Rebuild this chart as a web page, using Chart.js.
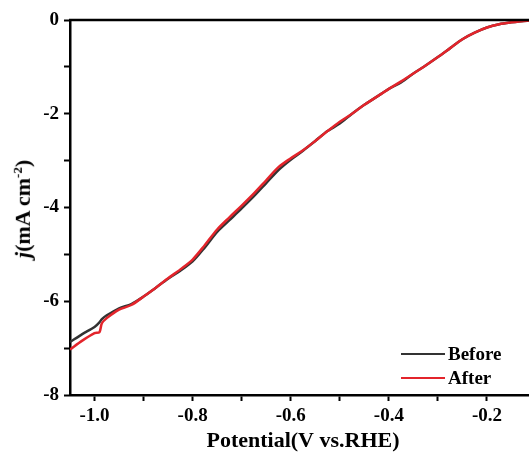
<!DOCTYPE html>
<html>
<head>
<meta charset="utf-8">
<script src="https://cdn.jsdelivr.net/npm/chart.js@4"></script>
<style>
  html, body { margin: 0; padding: 0; background: #fff; overflow: hidden; }
  #wrap { position: relative; width: 545px; height: 459px; }
  .serif { font-family: "Liberation Serif", "Times New Roman", serif; font-weight: bold; color: #000; }
  #ylab {
    position: absolute; left: 23px; top: 209px;
    transform: translate(-50%, -50%) rotate(-90deg);
    white-space: nowrap; font-size: 22px;
  }
  #ylab sup { font-size: 13px; }
  #legend { position: absolute; left: 401px; top: 342px; font-size: 19px; line-height: 24px; }
  #legend .row { display: flex; align-items: center; }
  #legend .swatch { width: 44px; height: 2.5px; margin-right: 3px; }
</style>
</head>
<body>
<div id="wrap">
  <canvas id="lsvChart"></canvas>
  <div id="ylab" class="serif"><i>j</i>(mA cm<sup>-2</sup>)</div>
  <div id="legend" class="serif">
    <div class="row"><span class="swatch" style="background:#333333"></span>Before</div>
    <div class="row"><span class="swatch" style="background:#e3242b"></span>After</div>
  </div>
</div>
<script>
// potential (V vs. RHE) and current density (mA cm-2)
const potential = [-1.05, -1.025, -1.0, -0.99, -0.985, -0.975, -0.95, -0.925, -0.9, -0.875,
  -0.85, -0.825, -0.8, -0.775, -0.75, -0.725, -0.7, -0.675, -0.65, -0.625,
  -0.6, -0.575, -0.55, -0.525, -0.5, -0.475, -0.45, -0.425, -0.4, -0.375,
  -0.35, -0.325, -0.3, -0.275, -0.25, -0.225, -0.2, -0.175, -0.15, -0.125, -0.1];

const before = [-6.87, -6.70, -6.55, -6.45, -6.38, -6.30, -6.15, -6.06, -5.90, -5.71,
  -5.52, -5.35, -5.15, -4.85, -4.52, -4.27, -4.02, -3.76, -3.48, -3.20,
  -2.98, -2.79, -2.58, -2.37, -2.21, -2.00, -1.81, -1.64, -1.47, -1.33,
  -1.14, -0.97, -0.79, -0.60, -0.41, -0.27, -0.16, -0.09, -0.05, -0.02, -0.01];

const after = [-7.03, -6.84, -6.68, -6.66, -6.47, -6.36, -6.18, -6.08, -5.90, -5.71,
  -5.51, -5.32, -5.11, -4.80, -4.47, -4.21, -3.96, -3.70, -3.42, -3.14,
  -2.95, -2.78, -2.58, -2.37, -2.17, -2.00, -1.81, -1.64, -1.47, -1.31,
  -1.14, -0.97, -0.79, -0.60, -0.41, -0.27, -0.16, -0.09, -0.05, -0.02, -0.01];

const xTicks = [-1.0, -0.9, -0.8, -0.7, -0.6, -0.5, -0.4, -0.3, -0.2];
const yTicks = [0, -1, -2, -3, -4, -5, -6, -7, -8];

const tickFont = { family: '"Liberation Serif", "Times New Roman", serif', weight: 'bold', size: 19 };

// top edge of the frame
const topFrame = {
  id: 'topFrame',
  afterDraw(chart) {
    const { ctx, chartArea } = chart;
    ctx.save();
    ctx.strokeStyle = '#000';
    ctx.lineWidth = 2.5;
    ctx.beginPath();
    ctx.moveTo(chartArea.left - 1, chartArea.top);
    ctx.lineTo(chartArea.right, chartArea.top);
    ctx.stroke();
    ctx.restore();
  }
};

const ctx = document.getElementById('lsvChart').getContext('2d');
new Chart(ctx, {
  type: 'line',
  data: {
    datasets: [
      {
        label: 'Before',
        data: potential.map((x, i) => ({ x: x, y: before[i] })),
        borderColor: '#333333',
        borderWidth: 2.5,
        pointRadius: 0,
        tension: 0.3,
        order: 2
      },
      {
        label: 'After',
        data: potential.map((x, i) => ({ x: x, y: after[i] })),
        borderColor: '#e3242b',
        borderWidth: 2.5,
        pointRadius: 0,
        tension: 0.3,
        order: 1
      }
    ]
  },
  options: {
    responsive: true,
    maintainAspectRatio: false,
    animation: false,
    layout: { padding: { top: 20, right: 9, left: 0, bottom: 0 } },
    plugins: {
      legend: { display: false },
      tooltip: { enabled: false }
    },
    scales: {
      x: {
        type: 'linear',
        min: -1.05,
        max: -0.1,
        afterBuildTicks: (axis) => { axis.ticks = xTicks.map(v => ({ value: v })); },
        afterFit: (scale) => { scale.height = 64; },
        border: { color: '#000', width: 2.5 },
        grid: { drawOnChartArea: false, color: '#000', tickLength: 6, tickWidth: 2 },
        ticks: {
          color: '#000',
          font: tickFont,
          padding: 4,
          maxRotation: 0,
          autoSkip: false,
          callback: (v) => (Math.round(v * 10) % 2 === 0 ? v.toFixed(1) : '')
        },
        title: {
          display: true,
          text: 'Potential(V vs.RHE)',
          color: '#000',
          font: { family: '"Liberation Serif", "Times New Roman", serif', weight: 'bold', size: 22 },
          padding: { top: 0, bottom: 4 }
        }
      },
      y: {
        type: 'linear',
        min: -8,
        max: 0,
        afterBuildTicks: (axis) => { axis.ticks = yTicks.map(v => ({ value: v })); },
        afterFit: (scale) => { scale.width = 70; },
        border: { color: '#000', width: 2.5 },
        grid: { drawOnChartArea: false, color: '#000', tickLength: 6, tickWidth: 2 },
        ticks: {
          color: '#000',
          font: tickFont,
          padding: 5,
          autoSkip: false,
          callback: (v) => (v % 2 === 0 ? String(v) : '')
        }
      }
    }
  },
  plugins: [topFrame]
});
</script>
</body>
</html>
